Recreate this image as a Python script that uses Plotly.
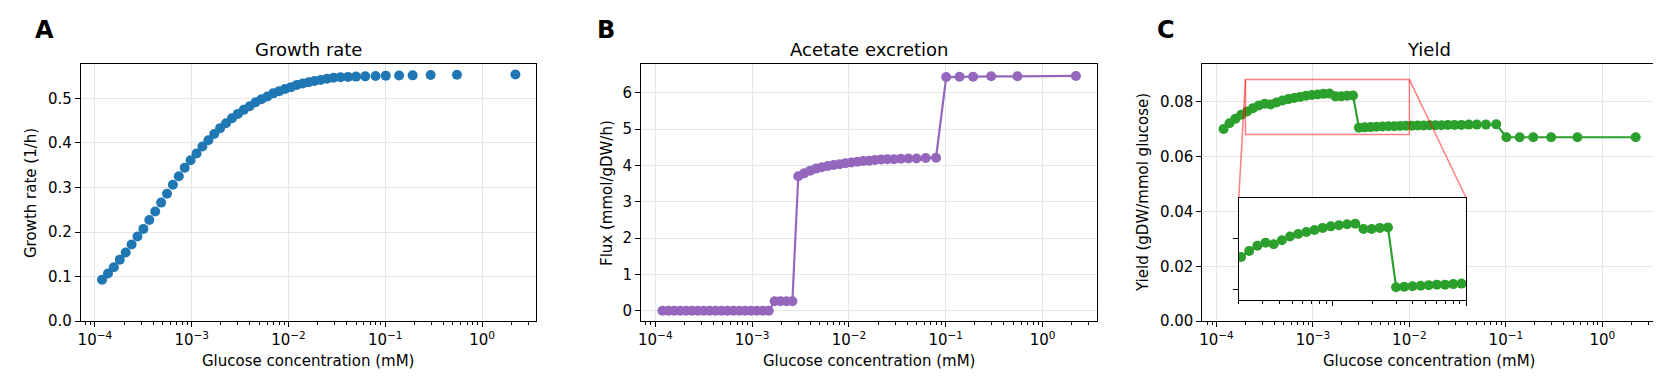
import math
import plotly.graph_objects as go

# ---------------- data ----------------
glucose_mM = [
    1.186e-4, 1.365e-4, 1.570e-4, 1.807e-4, 2.080e-4, 2.393e-4, 2.754e-4, 3.170e-4,
    3.648e-4, 4.198e-4, 4.831e-4, 5.559e-4, 6.397e-4, 7.362e-4, 8.472e-4, 9.750e-4,
    1.122e-3, 1.291e-3, 1.486e-3, 1.710e-3, 1.968e-3, 2.265e-3, 2.606e-3, 2.999e-3,
    3.451e-3, 3.972e-3, 4.571e-3, 5.260e-3, 6.053e-3, 6.966e-3, 8.017e-3, 9.226e-3,
    1.062e-2, 1.222e-2, 1.406e-2, 1.618e-2, 1.862e-2, 2.153e-2, 2.500e-2, 2.924e-2,
    3.451e-2, 4.121e-2, 4.989e-2, 6.209e-2, 7.943e-2, 0.1012, 0.1390, 0.1919,
    0.2944, 0.5508, 2.213,
]
growth_rate = [
    0.093, 0.107, 0.121, 0.138, 0.154, 0.172, 0.190, 0.207,
    0.227, 0.246, 0.266, 0.286, 0.306, 0.325, 0.344, 0.361,
    0.376, 0.392, 0.406, 0.420, 0.433, 0.444, 0.455, 0.465,
    0.474, 0.482, 0.491, 0.498, 0.504, 0.511, 0.516, 0.521,
    0.525, 0.530, 0.533, 0.536, 0.539, 0.541, 0.544, 0.546,
    0.547, 0.548, 0.5486, 0.5492, 0.5500, 0.5508, 0.5510, 0.5514,
    0.5522, 0.5528, 0.5532,
]
acetate_flux = [
    0.0, 0.0, 0.0, 0.0, 0.0, 0.0, 0.0, 0.0,
    0.0, 0.0, 0.0, 0.0, 0.0, 0.0, 0.0, 0.0,
    0.0, 0.0, 0.0, 0.26, 0.26, 0.26, 0.26, 3.70,
    3.78, 3.85, 3.91, 3.95, 3.98, 4.01, 4.03, 4.06,
    4.08, 4.10, 4.12, 4.13, 4.15, 4.16, 4.17, 4.17,
    4.18, 4.19, 4.19, 4.20, 4.21, 6.43, 6.44, 6.44,
    6.45, 6.45, 6.46,
]
biomass_yield = [
    0.0700, 0.0721, 0.0737, 0.0752, 0.0764, 0.0776, 0.0786, 0.0792,
    0.0789, 0.0797, 0.0804, 0.0809, 0.0813, 0.0817, 0.0821, 0.0824,
    0.0826, 0.0828, 0.0829, 0.0819, 0.0819, 0.0821, 0.0822, 0.0705,
    0.0706, 0.0707, 0.0708, 0.0709, 0.0710, 0.0710, 0.0711, 0.0712,
    0.0712, 0.0713, 0.0713, 0.0714, 0.0714, 0.0714, 0.0715, 0.0715,
    0.0715, 0.0716, 0.0716, 0.0716, 0.0717, 0.0670, 0.0670, 0.0670,
    0.0670, 0.0670, 0.0670,
]

panel_letters = ["A", "B", "C"]
panel_titles = ["Growth rate", "Acetate excretion", "Yield"]
y_titles = ["Growth rate (1/h)", "Flux (mmol/gDW/h)", "Yield (gDW/mmol glucose)"]
x_title = "Glucose concentration (mM)"
decade_ticks = [1e-4, 1e-3, 1e-2, 1e-1, 1e0]
decade_labels = ["10<sup>\u22124</sup>", "10<sup>\u22123</sup>", "10<sup>\u22122</sup>",
                 "10<sup>\u22121</sup>", "10<sup>0</sup>"]
yticks_A = [0.0, 0.1, 0.2, 0.3, 0.4, 0.5]
yticks_B = [0, 1, 2, 3, 4, 5, 6]
yticks_C = [0.00, 0.02, 0.04, 0.06, 0.08]
inset_xlim = [2e-4, 1e-2]
inset_ylim = [0.068, 0.088]
inset_yticks = [0.07, 0.08]

# ---------------- layout geometry ----------------
W, H = 1661, 383
FONT = "DejaVu Sans"
C_BLUE, C_PURPLE, C_GREEN = "#1f77b4", "#9467bd", "#2ca02c"
GRID = "#e6e6e6"
MSIZE = 10


def fx(px):
    return px / W


def fy(py):
    return 1 - py / H


x_doms = [(fx(70), fx(526)), (fx(631.4), fx(1087.5)), (fx(1193.6), fx(1648.2))]
y_dom = (fy(320.7), fy(57.3))
inset_xdom = (fx(1230), fx(1457.7))
inset_ydom = (fy(299.0), fy(194.3))
x_range = [-4.145, 0.558]
y_ranges = [[0, 0.577], [-0.287, 6.79], [0, 0.0937]]

minor_vals = [m * 10.0 ** e for e in range(-5, 1) for m in range(2, 10)]

fig = go.Figure()

series = [
    (growth_rate, C_BLUE, "markers"),
    (acetate_flux, C_PURPLE, "lines+markers"),
    (biomass_yield, C_GREEN, "lines+markers"),
]
for i, (vals, col, mode) in enumerate(series):
    sfx = "" if i == 0 else str(i + 1)
    fig.add_trace(go.Scatter(
        x=glucose_mM, y=vals, mode=mode,
        marker=dict(color=col, size=MSIZE, line=dict(width=0)),
        line=dict(color=col, width=2.2),
        xaxis="x" + sfx, yaxis="y" + sfx, showlegend=False, hoverinfo="skip",
    ))

# inset trace
fig.add_trace(go.Scatter(
    x=glucose_mM, y=biomass_yield, mode="lines+markers",
    marker=dict(color=C_GREEN, size=MSIZE, line=dict(width=0)),
    line=dict(color=C_GREEN, width=2.2),
    xaxis="x4", yaxis="y4", showlegend=False, hoverinfo="skip", cliponaxis=True,
))

tickfont = dict(family=FONT, size=15, color="black")
axis_common = dict(
    showline=True, linecolor="black", linewidth=1.2, mirror=True,
    ticks="outside", ticklen=5, tickwidth=1.2, tickcolor="black",
    tickfont=tickfont, zeroline=False,
)

layout = dict(
    width=W, height=H, margin=dict(l=0, r=0, t=0, b=0),
    paper_bgcolor="white", plot_bgcolor="white", showlegend=False,
    font=dict(family=FONT, size=15, color="black"),
)

yticks_all = [yticks_A, yticks_B, yticks_C]
yfmt = ["{:.1f}", "{:d}", "{:.2f}"]
for i in range(3):
    sfx = "" if i == 0 else str(i + 1)
    layout["xaxis" + sfx] = dict(
        axis_common, type="log", domain=list(x_doms[i]), range=x_range,
        anchor="y" + sfx, tickvals=decade_ticks, ticktext=decade_labels,
        showgrid=True, gridcolor=GRID, gridwidth=1.1,
        minor=dict(tickvals=minor_vals, ticks="outside", ticklen=3, tickwidth=0.9,
                   tickcolor="black", showgrid=False),
    )
    layout["yaxis" + sfx] = dict(
        axis_common, domain=list(y_dom), range=y_ranges[i], anchor="x" + sfx,
        tickvals=yticks_all[i], ticktext=[yfmt[i].format(v) for v in yticks_all[i]],
        showgrid=True, gridcolor=GRID, gridwidth=1.1,
    )

layout["xaxis4"] = dict(
    axis_common, type="log", domain=list(inset_xdom),
    range=[math.log10(inset_xlim[0]), math.log10(inset_xlim[1])], anchor="y4",
    tickvals=[1e-3, 1e-2], showticklabels=False, showgrid=False,
    minor=dict(tickvals=minor_vals, ticks="outside", ticklen=3, tickwidth=0.9,
               tickcolor="black", showgrid=False),
)
layout["yaxis4"] = dict(
    axis_common, domain=list(inset_ydom), range=inset_ylim, anchor="x4",
    tickvals=inset_yticks, showticklabels=False, showgrid=False,
)
fig.update_layout(**layout)

# ---------------- inset background, zoom box and connectors ----------------
shapes = []
shapes.append(dict(type="rect", xref="x4", yref="y4", layer="below",
                   x0=inset_xlim[0], x1=inset_xlim[1], y0=inset_ylim[0], y1=inset_ylim[1],
                   fillcolor="white", line=dict(width=0)))
RED = "rgba(255,0,0,0.5)"
shapes.append(dict(type="rect", xref="x3", yref="y3", layer="above",
                   x0=inset_xlim[0], x1=inset_xlim[1], y0=inset_ylim[0], y1=inset_ylim[1],
                   line=dict(color=RED, width=1.5), fillcolor="rgba(0,0,0,0)"))


def c_to_paper(xv, yv):
    d0, d1 = x_doms[2]
    r0, r1 = x_range
    px = d0 + (math.log10(xv) - r0) / (r1 - r0) * (d1 - d0)
    yr0, yr1 = y_ranges[2]
    py = y_dom[0] + (yv - yr0) / (yr1 - yr0) * (y_dom[1] - y_dom[0])
    return px, py


for k, xv in enumerate(inset_xlim):
    x0p, y0p = c_to_paper(xv, inset_ylim[1])
    x1p = inset_xdom[k]
    y1p = inset_ydom[1]
    shapes.append(dict(type="line", xref="paper", yref="paper", layer="above",
                       x0=x0p, y0=y0p, x1=x1p, y1=y1p, line=dict(color=RED, width=1.5)))
fig.update_layout(shapes=shapes)

# ---------------- text ----------------
ann = []
letter_px = [34, 596, 1157.5]
ylabel_px = [19.5, 596.5, 1133.5]
for i in range(3):
    cx = (x_doms[i][0] + x_doms[i][1]) / 2
    ann.append(dict(text=panel_titles[i], x=cx, y=fy(42.1), xref="paper", yref="paper",
                    xanchor="center", yanchor="middle", showarrow=False,
                    font=dict(family=FONT, size=18, color="black")))
    ann.append(dict(text=x_title, x=cx, y=fy(361.8), xref="paper", yref="paper",
                    xanchor="center", yanchor="middle", showarrow=False,
                    font=dict(family=FONT, size=15, color="black")))
    ann.append(dict(text=y_titles[i], x=fx(ylabel_px[i]), y=(y_dom[0] + y_dom[1]) / 2,
                    xref="paper", yref="paper", xanchor="center", yanchor="middle",
                    textangle=-90, showarrow=False,
                    font=dict(family=FONT, size=15, color="black")))
    ann.append(dict(text="<b>" + panel_letters[i] + "</b>", x=fx(letter_px[i]), y=fy(22.7),
                    xref="paper", yref="paper", xanchor="center", yanchor="middle",
                    showarrow=False, font=dict(family=FONT, size=24, color="black")))
fig.update_layout(annotations=ann)

fig.write_html("out.html")
